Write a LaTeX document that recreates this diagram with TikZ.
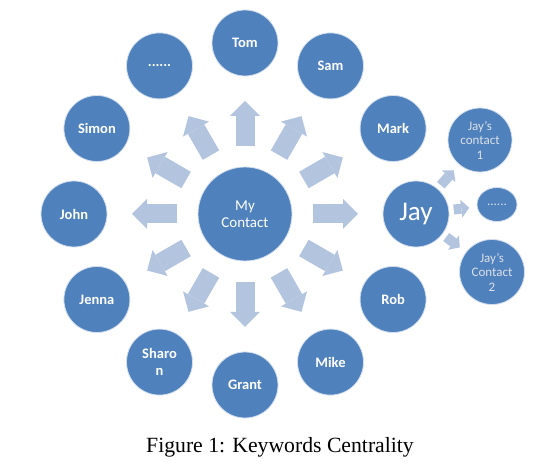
\documentclass[tikz,border=0pt]{standalone}
\usepackage{fontspec}
\setmainfont{Liberation Serif}
\newfontfamily\calibrifont{Carlito}
\usepackage{tikz}
\usetikzlibrary{arrows.meta, shapes.geometric, positioning}
\definecolor{colorCircle}{HTML}{4F81BD}
\definecolor{colorArrow}{HTML}{B3C4DE}
\definecolor{colorSubText}{HTML}{DCE0E6}
\tikzset{
  contact/.style={circle, fill=colorCircle, draw=white!75!colorCircle, line width=0.8pt, minimum size=66pt, inner sep=0pt, outer sep=0pt, text=white, align=center, font=\calibrifont\fontsize{15}{17.5}\selectfont},
  friend/.style={contact, font=\calibrifont\bfseries\fontsize{14.5}{17.5}\selectfont},
  subcontact/.style={contact, minimum size=64pt, text=colorSubText, font=\calibrifont\fontsize{13}{14.5}\selectfont},
  bigarrow/.style={draw=colorArrow, line width=19pt, -{Triangle[width=30pt, length=15pt, line width=0pt]}, shorten <=21pt, shorten >=25pt},
  smallarrow/.style={draw=colorArrow, line width=10pt, -{Triangle[width=18pt, length=8pt, line width=0pt]}, shorten <=5pt, shorten >=8pt},
}

\begin{document}
\begin{tikzpicture}[x=1pt, y=1pt]
\useasboundingbox (0,0) rectangle (549,473);
\node[contact, minimum size=94pt] (c0) at (245,259) {My\\Contact};
\node[friend] (p1) at ([shift={(90:171pt)}]c0) {Tom};
\node[friend] (p2) at ([shift={(60:171pt)}]c0) {Sam};
\node[friend] (p3) at ([shift={(30:171pt)}]c0) {Mark};
\node[contact, font=\calibrifont\fontsize{27}{30}\selectfont] (p4) at ([shift={(0:171pt)}]c0) {Jay};
\node[friend] (p5) at ([shift={(-30:171pt)}]c0) {Rob};
\node[friend] (p6) at ([shift={(-60:171pt)}]c0) {Mike};
\node[friend] (p7) at ([shift={(-90:171pt)}]c0) {Grant};
\node[friend] (p8) at ([shift={(-120:171pt)}]c0) {Sharo\\n};
\node[friend] (p9) at ([shift={(-150:171pt)}]c0) {Jenna};
\node[friend] (p10) at ([shift={(180:171pt)}]c0) {John};
\node[friend] (p11) at ([shift={(150:171pt)}]c0) {Simon};
\node[friend] (p12) at ([shift={(120:171pt)}]c0) {......};
\node[subcontact] (j1) at ([shift={(64,74)}]p4) {Jay’s\\contact\\1};
\node[subcontact, ellipse, minimum width=40pt, minimum height=34pt] (j2) at ([shift={(81,9.5)}]p4) {......};
\node[subcontact, minimum size=65pt] (j3) at ([shift={(76,-58)}]p4) {Jay’s\\Contact\\2};
\node[anchor=base, font=\fontsize{21.7}{26}\selectfont] (cap) at (280,20) {Figure 1: Keywords Centrality};
% arrows out of my contact
\draw [bigarrow] (c0) -- (p1);
\draw [bigarrow] (c0) -- (p2);
\draw [bigarrow] (c0) -- (p3);
\draw [bigarrow] (c0) -- (p4);
\draw [bigarrow] (c0) -- (p5);
\draw [bigarrow] (c0) -- (p6);
\draw [bigarrow] (c0) -- (p7);
\draw [bigarrow] (c0) -- (p8);
\draw [bigarrow] (c0) -- (p9);
\draw [bigarrow] (c0) -- (p10);
\draw [bigarrow] (c0) -- (p11);
\draw [bigarrow] (c0) -- (p12);
% arrows out of jay
\draw [smallarrow] (p4) -- (j1);
\draw [smallarrow] (p4) -- (j2);
\draw [smallarrow] (p4) -- (j3);
\end{tikzpicture}
\end{document}
